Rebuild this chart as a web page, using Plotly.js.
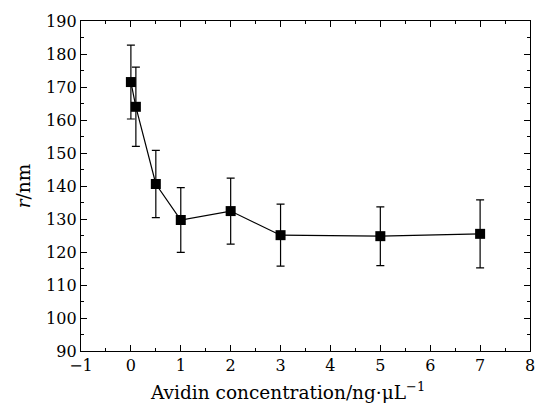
<!DOCTYPE html>
<html>
<head>
<meta charset="utf-8">
<script src="https://cdn.plot.ly/plotly-3.0.1.min.js"></script>
<style>
  html, body { margin: 0; padding: 0; background: #fff; }
  #chart { width: 537px; height: 403px; }
</style>
</head>
<body>
<div id="chart"></div>
<script>
// Avidin concentration (ng/µL) vs. radius r (nm), with error bars
const concentration = [0, 0.1, 0.5, 1, 2, 3, 5, 7];
const radius = [171.5, 164.0, 140.6, 129.7, 132.4, 125.1, 124.8, 125.5];
const radiusErr = [11.2, 12.0, 10.2, 9.8, 10.0, 9.4, 8.9, 10.3];
const xTickVals = [-1, 0, 1, 2, 3, 4, 5, 6, 7, 8];
const xTickText = ['\u22121', '0', '1', '2', '3', '4', '5', '6', '7', '8'];
const xTitle = 'Avidin concentration/ng\u00b7\u03bcL<sup>\u22121</sup>';
const yTitle = '<i>r</i>/nm';

const font = { family: 'DejaVu Serif, Liberation Serif, serif', size: 16, color: '#000' };
const titleFont = { family: 'DejaVu Serif, Liberation Serif, serif', size: 18.5, color: '#000' };

const trace = {
  x: concentration,
  y: radius,
  type: 'scatter',
  mode: 'lines+markers',
  line: { color: '#000', width: 1.2 },
  marker: { symbol: 'square', size: 10, color: '#000' },
  error_y: { type: 'data', array: radiusErr, visible: true, color: '#000', thickness: 1.2, width: 4 },
  showlegend: false
};

const axisCommon = {
  showgrid: false,
  zeroline: false,
  showline: true,
  linecolor: '#000',
  linewidth: 1.2,
  mirror: 'allticks',
  ticks: 'inside',
  ticklen: 6,
  tickwidth: 1,
  tickcolor: '#000',
  tickfont: font
};

const layout = {
  width: 537,
  height: 403,
  margin: { l: 81, r: 7, t: 21, b: 52 },
  paper_bgcolor: '#fff',
  plot_bgcolor: '#fff',
  font: font,
  xaxis: Object.assign({}, axisCommon, {
    range: [-1, 8],
    tickmode: 'array',
    tickvals: xTickVals,
    ticktext: xTickText,
    minor: { dtick: 0.5, ticks: 'inside', ticklen: 3, tickcolor: '#000', tickwidth: 1 }
  }),
  yaxis: Object.assign({}, axisCommon, {
    range: [90, 190],
    dtick: 10,
    tick0: 90,
    minor: { dtick: 5, ticks: 'inside', ticklen: 3, tickcolor: '#000', tickwidth: 1 },
    title: { text: yTitle, font: titleFont, standoff: 10 }
  }),
  // x-axis title placed as a paper annotation so it sits slightly left of centre
  annotations: [{
    text: xTitle,
    xref: 'paper', yref: 'paper',
    x: 0.46, y: -0.122,
    xanchor: 'center', yanchor: 'middle',
    showarrow: false,
    font: titleFont
  }]
};

Plotly.newPlot('chart', [trace], layout, { displayModeBar: false, staticPlot: true });
</script>
</body>
</html>
